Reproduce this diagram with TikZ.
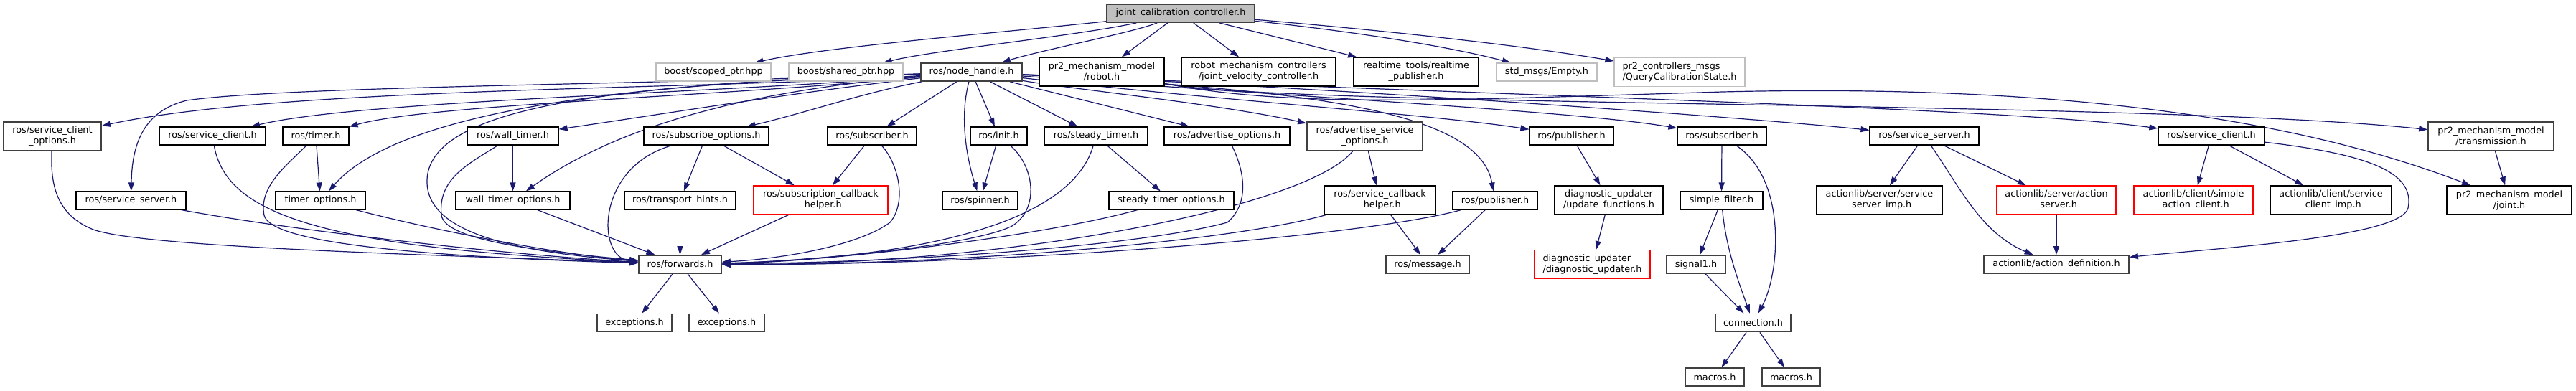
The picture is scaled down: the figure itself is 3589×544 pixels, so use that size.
\documentclass[tikz,border=0pt]{standalone}
\usepackage{fontspec}
\setmainfont{DejaVu Sans}
\usetikzlibrary{arrows.meta}
\definecolor{edgec}{HTML}{191970}
\definecolor{topc}{HTML}{BFBFBF}
\definecolor{lightc}{HTML}{BFBFBF}
\definecolor{darkc}{HTML}{404040}
\newcommand\gfont{\fontsize{12.8pt}{15pt}\selectfont}
\pgfdeclarelayer{back}
\pgfdeclarelayer{edges}
\pgfsetlayers{back,edges,main}
\begin{document}
\begin{tikzpicture}[x=1pt,y=-1pt,
  box/.style={draw=black, line width=1.2pt, fill=white, inner sep=0pt, minimum height=25pt, align=center, font=\gfont},
  two/.style={minimum height=40pt},
  dark/.style={draw=darkc, line width=1.8pt},
  grey/.style={draw=lightc},
  trunc/.style={draw=red},
  edge/.style={draw=edgec, line width=1.2pt, -{Triangle[length=12pt,width=8pt]}}]
\begin{pgfonlayer}{back}
\fill[white] (0,0) rectangle (3589,544);
\end{pgfonlayer}
\useasboundingbox (0,0) rectangle (3589,544);
% row 1
\node[box,dark,fill=topc,minimum width=206] (J) at (1645,18.5) {joint\_calibration\_controller.h};
% row 2
\node[box,grey,minimum width=160] (bsp) at (994,100.5) {boost/scoped\_ptr.hpp};
\node[box,grey,minimum width=159] (bshp) at (1178.5,100.5) {boost/shared\_ptr.hpp};
\node[box,dark,minimum width=141] (N) at (1353.5,100.5) {ros/node\_handle.h};
\node[box,two,minimum width=174] (robot) at (1535,100) {pr2\_mechanism\_model\\/robot.h};
\node[box,two,minimum width=215] (jvc) at (1753.5,100) {robot\_mechanism\_controllers\\/joint\_velocity\_controller.h};
\node[box,two,minimum width=174] (rtp) at (1973,100) {realtime\_tools/realtime\\\_publisher.h};
\node[box,grey,minimum width=140] (empty) at (2155,100.5) {std\_msgs/Empty.h};
\node[box,grey,two,minimum width=182,align=left] (qcs) at (2340,100.5) {pr2\_controllers\_msgs\\/QueryCalibrationState.h};
% row 3
\node[box,two,dark,minimum width=136] (sco) at (73,190) {ros/service\_client\\\_options.h};
\node[box,minimum width=148] (scL) at (296,189.5) {ros/service\_client.h};
\node[box,minimum width=92] (timer) at (440,189.5) {ros/timer.h};
\node[box,minimum width=127] (wtimer) at (714.5,189.5) {ros/wall\_timer.h};
\node[box,minimum width=174] (subopts) at (984,189.5) {ros/subscribe\_options.h};
\node[box,minimum width=124] (subL) at (1215,189.5) {ros/subscriber.h};
\node[box,minimum width=79] (init) at (1391.5,189.5) {ros/init.h};
\node[box,minimum width=144] (stimer) at (1527,189.5) {ros/steady\_timer.h};
\node[box,minimum width=175] (advopts) at (1709.5,189.5) {ros/advertise\_options.h};
\node[box,two,dark,minimum width=161] (asvopts) at (1901.5,190) {ros/advertise\_service\\\_options.h};
\node[box,minimum width=117] (pubU) at (2189.5,189.5) {ros/publisher.h};
\node[box,minimum width=124] (subR) at (2399,189.5) {ros/subscriber.h};
\node[box,minimum width=152] (ssR) at (2681,189.5) {ros/service\_server.h};
\node[box,minimum width=148] (scR) at (3081,189.5) {ros/service\_client.h};
\node[box,two,dark,minimum width=175] (trans) at (3470.5,190) {pr2\_mechanism\_model\\/transmission.h};
% row 4
\node[box,minimum width=153] (ssL) at (182.5,279.5) {ros/service\_server.h};
\node[box,minimum width=125] (topts) at (446.5,279.5) {timer\_options.h};
\node[box,minimum width=159] (wtopts) at (714.5,279.5) {wall\_timer\_options.h};
\node[box,minimum width=155] (th) at (947.5,279.5) {ros/transport\_hints.h};
\node[box,two,trunc,minimum width=187] (sch) at (1143.5,279) {ros/subscription\_callback\\\_helper.h};
\node[box,minimum width=105] (spinner) at (1365.5,279.5) {ros/spinner.h};
\node[box,minimum width=174] (stopts) at (1632,279.5) {steady\_timer\_options.h};
\node[box,two,minimum width=155] (svch) at (1922.5,279) {ros/service\_callback\\\_helper.h};
\node[box,minimum width=118] (pubL) at (2083,279.5) {ros/publisher.h};
\node[box,two,minimum width=151] (uf) at (2241.5,279) {diagnostic\_updater\\/update\_functions.h};
\node[box,minimum width=115] (sf) at (2398.5,279.5) {simple\_filter.h};
\node[box,two,minimum width=175] (ssimp) at (2618.5,279) {actionlib/server/service\\\_server\_imp.h};
\node[box,two,trunc,minimum width=166] (as) at (2865,279) {actionlib/server/action\\\_server.h};
\node[box,two,trunc,minimum width=166] (sac) at (3056,279) {actionlib/client/simple\\\_action\_client.h};
\node[box,two,minimum width=169] (scimp) at (3247.5,279) {actionlib/client/service\\\_client\_imp.h};
\node[box,two,minimum width=174] (joint) at (3496,279) {pr2\_mechanism\_model\\/joint.h};
% row 5
\node[box,dark,minimum width=115] (fw) at (947.5,368.5) {ros/forwards.h};
\node[box,dark,minimum width=116] (msg) at (1989,368.5) {ros/message.h};
\node[box,two,trunc,minimum width=161,align=left] (du) at (2218.5,368.5) {diagnostic\_updater\\/diagnostic\_updater.h};
\node[box,dark,minimum width=82] (sig) at (2363,368.5) {signal1.h};
\node[box,dark,minimum width=202] (ad) at (2865,368.5) {actionlib/action\_definition.h};
% row 6
\node[box,dark,minimum width=104] (ex1) at (884,450) {exceptions.h};
\node[box,dark,minimum width=105] (ex2) at (1012.5,450) {exceptions.h};
\node[box,dark,minimum width=105] (conn) at (2442.5,450) {connection.h};
% row 7
\node[box,dark,minimum width=82] (mac1) at (2389,525.5) {macros.h};
\node[box,dark,minimum width=81] (mac2) at (2495.5,525.5) {macros.h};

\begin{pgfonlayer}{edges}
% edges from J
\draw[edge] (J) .. controls (1400,45) and (1150,65) .. (bsp);
\draw[edge] (J) .. controls (1500,50) and (1300,70) .. (bshp);
\draw[edge] (J) .. controls (1580,45) and (1450,70) .. (N);
\draw[edge] (J) -- (robot);
\draw[edge] (J) -- (jvc);
\draw[edge] (J) -- (rtp);
\draw[edge] (J) .. controls (1850,40) and (2000,60) .. (empty);
\draw[edge] (J) .. controls (1900,40) and (2100,60) .. (qcs);
% robot
\draw[edge] (robot) .. controls (1800,150) and (3000,140) .. (trans);
\draw[edge] (robot) .. controls (1800,150) and (2000,140) .. (2400,128) .. controls (2950,115) and (3250,185) .. (joint);
\draw[edge] (trans) -- (joint);
% from N
\draw[edge] (N) .. controls (1000,125) and (400,120) .. (sco);
\draw[edge] (N) .. controls (1000,130) and (500,140) .. (scL);
\draw[edge] (N) .. controls (1000,135) and (600,145) .. (timer);
\draw[edge] (N) .. controls (900,118) and (400,120) .. (260,140) .. controls (200,155) and (184,200) .. (ssL);
\draw[edge] (N) .. controls (900,115) and (560,150) .. (topts);
\draw[edge] (N) .. controls (1100,130) and (950,155) .. (wtimer);
\draw[edge] (N) .. controls (1000,130) and (840,190) .. (wtopts);
\draw[edge] (N) .. controls (900,118) and (600,140) .. (595,250) .. controls (592,320) and (700,350) .. (fw);
\draw[edge] (N) .. controls (1200,130) and (1120,158) .. (subopts);
\draw[edge] (N) -- (subL);
\draw[edge] (N) .. controls (1335,170) and (1350,230) .. (spinner);
\draw[edge] (N) -- (init);
\draw[edge] (N) -- (stimer);
\draw[edge] (N) -- (advopts);
\draw[edge] (N) .. controls (1500,125) and (1700,145) .. (asvopts);
\draw[edge] (N) .. controls (1800,125) and (2060,150) .. (pubL);
\draw[edge] (N) .. controls (1700,140) and (2000,160) .. (pubU);
\draw[edge] (N) .. controls (1800,135) and (2200,155) .. (subR);
\draw[edge] (N) .. controls (1900,125) and (2450,165) .. (ssR);
\draw[edge] (N) .. controls (2000,130) and (2800,150) .. (scR);
% right part
\draw[edge] (pubU) -- (uf);
\draw[edge] (uf) -- (du);
\draw[edge] (subR) -- (sf);
\draw[edge] (subR) .. controls (2490,250) and (2480,380) .. (conn);
\draw[edge] (sf) -- (sig);
\draw[edge] (sf) .. controls (2405,350) and (2425,400) .. (conn);
\draw[edge] (sig) -- (conn);
\draw[edge] (conn) -- (mac1);
\draw[edge] (conn) -- (mac2);
\draw[edge] (ssR) -- (ssimp);
\draw[edge] (ssR) -- (as);
\draw[edge] (ssR) .. controls (2730,260) and (2760,325) .. (ad);
\draw[edge] (as) -- (ad);
\draw[edge] (scR) -- (sac);
\draw[edge] (scR) -- (scimp);
\draw[edge] (scR) .. controls (3300,215) and (3365,240) .. (3355,290) .. controls (3345,330) and (3100,345) .. (ad);
\draw[edge] (svch) -- (msg);
\draw[edge] (pubL) -- (msg);
% middle
\draw[edge] (subopts) -- (th);
\draw[edge] (subopts) -- (sch);
\draw[edge] (subL) -- (sch);
\draw[edge] (init) -- (spinner);
\draw[edge] (stimer) -- (stopts);
\draw[edge] (asvopts) -- (svch);
\draw[edge] (timer) -- (topts);
\draw[edge] (wtimer) -- (wtopts);
\draw[edge] (fw) -- (ex1);
\draw[edge] (fw) -- (ex2);
% into forwards
\draw[edge] (sco) .. controls (70,260) and (80,300) .. (130,320) .. controls (200,345) and (600,355) .. (fw);
\draw[edge] (ssL) .. controls (400,320) and (700,355) .. (fw);
\draw[edge] (scL) .. controls (315,300) and (450,345) .. (fw);
\draw[edge] (timer) .. controls (400,230) and (360,260) .. (368,300) .. controls (375,330) and (500,355) .. (fw);
\draw[edge] (topts) .. controls (600,320) and (780,355) .. (fw);
\draw[edge] (wtimer) .. controls (650,230) and (610,250) .. (615,300) .. controls (620,335) and (750,350) .. (fw);
\draw[edge] (wtopts) -- (fw);
\draw[edge] (subopts) .. controls (830,232) and (830,360) .. (fw);
\draw[edge] (th) -- (fw);
\draw[edge] (sch) -- (fw);
\draw[edge] (subL) .. controls (1250,225) and (1265,280) .. (1240,310) .. controls (1200,340) and (1100,360) .. (fw);
\draw[edge] (init) .. controls (1440,230) and (1450,290) .. (1410,315) .. controls (1350,345) and (1100,365) .. (fw);
\draw[edge] (stimer) .. controls (1490,320) and (1250,360) .. (fw);
\draw[edge] (stopts) .. controls (1450,330) and (1150,365) .. (fw);
\draw[edge] (advopts) .. controls (1730,230) and (1745,280) .. (1710,310) .. controls (1600,340) and (1300,365) .. (fw);
\draw[edge] (asvopts) .. controls (1820,290) and (1400,370) .. (fw);
\draw[edge] (svch) .. controls (1700,340) and (1300,370) .. (fw);
\draw[edge] (pubL) .. controls (1900,330) and (1400,370) .. (fw);
\end{pgfonlayer}
\end{tikzpicture}
\end{document}
